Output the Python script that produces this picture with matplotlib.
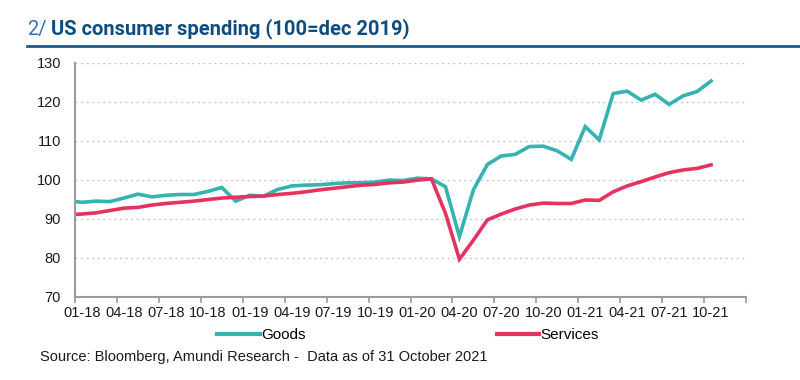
import numpy as np
import matplotlib
matplotlib.use("Agg")
import matplotlib.pyplot as plt
from matplotlib.lines import Line2D

# monthly values, dec-17 .. oct-21 (dec-17 only used so the line reaches the axis)
goods = [94.6,
         94.2, 94.5, 94.4, 95.3, 96.3, 95.6, 96.0, 96.2, 96.2, 97.0, 98.0, 94.5,
         96.0, 95.8, 97.5, 98.4, 98.6, 98.7, 99.0, 99.2, 99.2, 99.4, 99.9, 99.8,
         100.4, 100.2, 98.2, 85.4, 97.4, 103.9, 106.1, 106.5, 108.5, 108.6, 107.4, 105.2,
         113.6, 110.2, 122.1, 122.7, 120.4, 121.9, 119.3, 121.5, 122.6, 125.3]

services = [91.0,
            91.2, 91.5, 92.1, 92.7, 92.9, 93.5, 93.9, 94.2, 94.5, 94.9, 95.3, 95.5,
            95.7, 95.8, 96.2, 96.5, 96.9, 97.4, 97.8, 98.2, 98.6, 98.8, 99.2, 99.4,
            99.9, 100.2, 91.4, 79.6, 84.5, 89.7, 91.2, 92.5, 93.5, 94.0, 93.9, 93.9,
            94.8, 94.7, 96.9, 98.4, 99.5, 100.7, 101.8, 102.5, 102.9, 103.8]

tick_labels = ["01-18", "04-18", "07-18", "10-18", "01-19", "04-19", "07-19", "10-19",
               "01-20", "04-20", "07-20", "10-20", "01-21", "04-21", "07-21", "10-21"]

TEAL = "#34b3b1"
RED = "#e6325f"
NAVY = "#0f4d80"
narrow = ["Liberation Sans", "DejaVu Sans"]

fig = plt.figure(figsize=(8, 3.8), dpi=100)
ax = fig.add_axes([75 / 800, 1 - 296.7 / 380, (746 - 75) / 800, 234 / 380])

x = np.arange(len(goods)) - 0.5
ax.plot(x, goods, color=TEAL, lw=2.6, solid_joinstyle="miter")
ax.plot(x, services, color=RED, lw=2.6, solid_joinstyle="miter")

ax.set_xlim(0, 48)
ax.set_ylim(70, 130)
ax.set_yticks(range(70, 131, 10))
ax.yaxis.grid(True, linestyle=(0, (1.5, 2.5)), color="#c8c8c8", lw=1)
ax.set_axisbelow(True)

ax.set_xticks(range(0, 49, 3))
ax.set_xticklabels([])
ax.set_xticks(np.arange(0.5, 48, 3), minor=True)
ax.set_xticklabels(tick_labels, minor=True)
ax.tick_params(axis="x", which="major", length=4, color="#9a9a9a", width=1.2)
ax.tick_params(axis="x", which="minor", length=0, pad=7)
ax.tick_params(axis="y", length=0, pad=10)
for lab in ax.get_xticklabels(minor=True) + ax.get_yticklabels():
    lab.set_family(narrow)
    lab.set_fontsize(10.5)
    lab.set_color("#1a1a1a")

for s in ("top", "right"):
    ax.spines[s].set_visible(False)
for s in ("left", "bottom"):
    ax.spines[s].set_color("#9a9a9a")
    ax.spines[s].set_linewidth(1.5)

# title
fig.text(27 / 800, 1 - 29 / 380, "2/", color="#2c74b0", fontsize=14.5,
         family="Roboto", va="center")
fig.text(51 / 800, 1 - 29 / 380, "US consumer spending (100=dec 2019)", color=NAVY,
         fontsize=14.5, family="Roboto", weight="bold", va="center")
fig.add_artist(Line2D([27 / 800, 1], [1 - 46 / 380] * 2, color="#1f5a8c", lw=2))

handles = [Line2D([], [], color=TEAL, lw=3), Line2D([], [], color=RED, lw=3)]
fig.legend(handles, ["Goods", "Services"], loc="center", bbox_to_anchor=(0.51, 1 - 335 / 380),
           ncol=2, frameon=False, handlelength=2.8, handletextpad=0.1, columnspacing=12.5,
           prop={"family": narrow, "size": 11})

fig.text(40 / 800, 1 - 357 / 380, "Source: Bloomberg, Amundi Research -  Data as of 31 October 2021",
         family=narrow, fontsize=10.5, color="#1a1a1a", va="center")

fig.savefig("out.png", dpi=100)
